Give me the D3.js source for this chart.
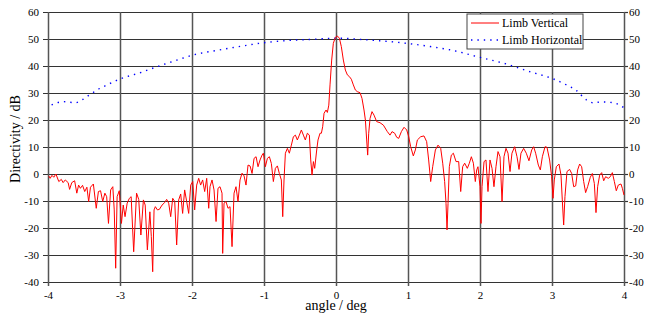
<!DOCTYPE html>
<html>
<head>
<meta charset="utf-8">
<script src="https://cdn.jsdelivr.net/npm/d3@7"></script>
<style>
  body { margin: 0; background: #fff; }
  text { font-family: "Liberation Serif", "DejaVu Serif", serif; fill: #000; }
</style>
</head>
<body>
<div id="chart"></div>
<script>
// tick values
const xTicks = [-4, -3, -2, -1, 0, 1, 2, 3, 4];
const yTicks = [-40, -30, -20, -10, 0, 10, 20, 30, 40, 50, 60];

// Limb Vertical
const vertAngle = [
  -3.99, -3.97, -3.945, -3.92, -3.89, -3.85, -3.815, -3.79, -3.76, -3.72, -3.70, -3.67, -3.63, -3.60,
  -3.575, -3.55, -3.52, -3.49, -3.46, -3.435, -3.41, -3.37, -3.33, -3.30, -3.27, -3.24, -3.21, -3.185,
  -3.16, -3.13, -3.10, -3.08, -3.06, -3.04, -3.01, -2.98, -2.955, -2.93, -2.90, -2.87, -2.845, -2.81,
  -2.77, -2.74, -2.71, -2.675, -2.65, -2.62, -2.585, -2.565, -2.546, -2.527, -2.509, -2.48, -2.453,
  -2.416, -2.38, -2.352, -2.324, -2.296, -2.268, -2.24, -2.213, -2.185, -2.157, -2.13, -2.102, -2.074,
  -2.046, -2.018, -1.99, -1.963, -1.935, -1.907, -1.88, -1.852, -1.824, -1.796, -1.768, -1.75, -1.722,
  -1.694, -1.666, -1.639, -1.611, -1.583, -1.574, -1.555, -1.528, -1.5, -1.472, -1.444, -1.416, -1.389,
  -1.361, -1.333, -1.305, -1.277, -1.25, -1.222, -1.194, -1.166, -1.138, -1.11, -1.083, -1.055, -1.027,
  -1.009, -0.981, -0.953, -0.925, -0.898, -0.87, -0.842, -0.814, -0.787, -0.759, -0.74, -0.722, -0.703,
  -0.675, -0.648, -0.62, -0.592, -0.564, -0.537, -0.509, -0.481, -0.453, -0.426, -0.398, -0.37, -0.351,
  -0.333, -0.314, -0.296, -0.268, -0.25, -0.222, -0.203, -0.185, -0.166, -0.138, -0.12, -0.1, -0.083,
  -0.06, -0.037, -0.009, 0.019, 0.047, 0.074, 0.102, 0.13, 0.158, 0.185, 0.213, 0.241, 0.269, 0.296,
  0.334, 0.361, 0.389, 0.408, 0.426, 0.44, 0.454, 0.473, 0.5, 0.528, 0.565, 0.611, 0.658, 0.713, 0.75,
  0.778, 0.815, 0.843, 0.871, 0.908, 0.945, 0.982, 1.01, 1.037, 1.074, 1.102, 1.13, 1.176, 1.222, 1.259,
  1.287, 1.315, 1.343, 1.38, 1.417, 1.454, 1.482, 1.509, 1.528, 1.542, 1.556, 1.574, 1.602, 1.63, 1.667,
  1.704, 1.732, 1.759, 1.787, 1.824, 1.852, 1.88, 1.908, 1.935, 1.954, 1.972, 2.0, 2.014, 2.028, 2.056,
  2.083, 2.111, 2.139, 2.167, 2.194, 2.222, 2.25, 2.278, 2.306, 2.333, 2.361, 2.389, 2.417, 2.444, 2.481,
  2.514, 2.542, 2.569, 2.606, 2.643, 2.68, 2.718, 2.745, 2.773, 2.81, 2.838, 2.866, 2.903, 2.93, 2.967,
  2.995, 3.014, 3.032, 3.06, 3.097, 3.125, 3.143, 3.162, 3.18, 3.208, 3.245, 3.273, 3.301, 3.329, 3.356,
  3.384, 3.412, 3.44, 3.467, 3.495, 3.532, 3.56, 3.588, 3.611, 3.634, 3.662, 3.69, 3.718, 3.745, 3.782,
  3.81, 3.838, 3.866, 3.893, 3.921, 3.958, 3.977, 4.0
];
const vertDb = [
  -0.7, -1.6, -0.5, -1.2, 0.0, -2.8, -2.0, -3.2, -2.2, -3.2, -5.7, -3.2, -2.5, -7.1,
  -4.1, -5.3, -4.2, -6.5, -4.9, -10.2, -4.9, -3.7, -12.7, -6.5, -6.2, -10.2, -7.1, -8.4,
  -18.3, -5.9, -4.7, -13.3, -34.9, -8.4, -6.2, -18.3, -11.5, -15.8, -10.8, -9.0, -8.4, -28.8,
  -7.1, -9.4, -22.6, -9.6, -11.5, -28.1, -14.0, -23.2, -36.2, -13.3, -12.1, -13.3, -13.1,
  -11.5, -10.6, -9.4, -10.8, -15.8, -9.0, -10.2, -26.3, -9.6, -7.4, -14.6, -5.9, -10.2,
  -14.6, -4.1, -2.8, -13.3, -4.1, -1.6, -4.1, -2.2, -6.5, -1.6, -12.7, -4.7, -2.2,
  -5.9, -17.6, -5.3, -4.7, -7.1, -29.4, -10.8, -10.2, -12.7, -12.1, -26.9, -7.1, -4.7,
  -10.2, -2.2, 0.3, -0.7, -4.1, 3.3, 3.0, 0.2, 5.8, 6.4, 2.7, 5.2, 7.0,
  7.7, 2.7, 5.8, 6.4, 3.9, -2.8, 2.1, 3.0, 0.2, -2.2, -15.8, -2.2, 7.7,
  9.5, 7.7, 10.7, 13.8, 14.4, 12.6, 14.4, 16.3, 14.4, 12.6, 15.1, 14.4, 5.2,
  -0.4, 4.6, 2.1, 8.9, 12.6, 15.1, 15.1, 17.5, 22.5, 23.7, 22.8, 25.5, 33,
  42.2, 48.4, 50.6, 51.1, 50.3, 47.2, 42.2, 38.5, 36.7, 36.1, 35.1, 33.0, 31.1, 30.5,
  30.1, 28.0, 23.7, 20.0, 12.6, 7.0, 15.1, 20.6, 23.1, 21.8, 19.4, 19.0, 18.1, 15.7, 14.4,
  15.7, 15.1, 13.6, 13.2, 15.7, 17.3, 16.3, 13.8, 10.1, 6.7, 8.9, 12.6, 13.8, 14.1, 12.0,
  5.2, -2.8, 2.7, 8.9, 10.7, 9.5, 4.0, -2.8, -10.9, -20.7, -10.9, 2.7, 7.0, 7.7, 4.6,
  4.6, -6.5, 2.7, 4.0, 2.1, 4.0, 6.4, 4.0, -2.8, 1.5, 2.7, -4.7, -18.3, -4.7, 4.6,
  5.2, -6.5, 5.2, 2.1, -4.7, 2.7, 8.3, 6.4, -10.2, 6.4, 9.5, 7.7, 0.9, 7.7, 10.1,
  6.4, 1.7, 7.7, 9.5, 7.7, 4.9, 8.9, 10.1, 7.7, 3.3, 1.5, 6.4, 10.1, 9.9, 5.2,
  -1.0, -9.0, -2.2, 2.7, 3.7, -0.4, -9.6, -18.9, -8.4, 0.9, 1.7, 0.2, -4.7, -4.4, 1.5,
  3.7, 2.7, -2.8, -6.9, -4.7, -1.2, 0.2, -3.5, -14.3, -4.7, -0.4, 0.5, -2.5, -1.0, -1.6,
  -1.0, 0.5, -2.8, -6.2, -4.1, -3.7, -5.3, -7.8
];

// Limb Horizontal
const horzAngle = [
  -3.95, -3.79, -3.62, -3.53, -3.44, -3.3, -3.18, -3.0, -2.72, -2.49, -2.21, -1.98, -1.63, -1.3,
  -1.01, -0.69, -0.32, 0.0, 0.47, 0.98, 1.31, 1.58, 2.0, 2.37, 2.69, 3.02, 3.2, 3.34, 3.48, 3.57,
  3.7, 3.85, 3.92, 4.0
];
const horzDb = [
  25.6, 26.8, 26.4, 27.4, 29.0, 31.4, 33.0, 35.2, 37.5, 39.7, 42.2, 44.1, 45.9, 47.4,
  48.6, 49.4, 49.9, 50.3, 49.6, 48.4, 47.2, 46.0, 43.2, 40.7, 37.9, 35.2, 33.0, 30.9, 27.4, 26.4,
  26.7, 26.4, 25.8, 24.5
];

const W = 645, H = 320;
const margin = { top: 12, right: 21, bottom: 38, left: 48 };
const width = W - margin.left - margin.right;
const height = H - margin.top - margin.bottom;

const svg = d3.select("#chart").append("svg")
  .attr("width", W)
  .attr("height", H);

const g = svg.append("g")
  .attr("transform", "translate(" + margin.left + "," + margin.top + ")");

const x = d3.scaleLinear().domain([-4, 4]).range([0, width]);
const y = d3.scaleLinear().domain([-40, 60]).range([height, 0]);

// plain hyphen minus, like the original
const fmt = d => String(d);

// horizontal grid + left labels (axis sits on the right edge, ticks run across)
const yGrid = g.append("g")
  .attr("transform", "translate(" + width + ",0)")
  .call(d3.axisLeft(y).tickValues(yTicks).tickFormat(fmt).tickSize(width + 5).tickPadding(4));

// right labels
const yRight = g.append("g")
  .attr("transform", "translate(" + width + ",0)")
  .call(d3.axisRight(y).tickValues(yTicks).tickFormat(fmt).tickSize(4).tickPadding(1));

// vertical grid + bottom labels
const xGrid = g.append("g")
  .call(d3.axisBottom(x).tickValues(xTicks).tickFormat(fmt).tickSize(height + 4).tickPadding(5));

[yGrid, yRight, xGrid].forEach(a => {
  a.attr("font-family", null);
  a.select(".domain").remove();
  a.selectAll("line").attr("stroke", "#333").attr("stroke-width", 1.2);
  a.selectAll("text").attr("font-size", 11);
});
xGrid.selectAll("line").attr("stroke", "#555").attr("stroke-width", 1.5);

// Limb Horizontal, dotted blue
const horz = horzAngle.map((a, i) => ({ a: a, v: horzDb[i] }));
g.append("path")
  .datum(horz)
  .attr("fill", "none")
  .attr("stroke", "#0000ff")
  .attr("stroke-width", 1.4)
  .attr("stroke-dasharray", "1.4,5")
  .attr("d", d3.line().x(d => x(d.a)).y(d => y(d.v)).curve(d3.curveMonotoneX));

// Limb Vertical, solid red
const vert = vertAngle.map((a, i) => ({ a: a, v: vertDb[i] }));
g.append("path")
  .datum(vert)
  .attr("fill", "none")
  .attr("stroke", "#ff0000")
  .attr("stroke-width", 1)
  .attr("stroke-linejoin", "round")
  .attr("d", d3.line().x(d => x(d.a)).y(d => y(d.v)));

// axis titles
svg.append("text")
  .attr("x", margin.left + x(0))
  .attr("y", 310)
  .attr("text-anchor", "middle")
  .attr("font-size", 14)
  .text("angle / deg");

svg.append("text")
  .attr("transform", "translate(20," + (margin.top + y(10) - 8) + ") rotate(-90)")
  .attr("text-anchor", "middle")
  .attr("font-size", 14)
  .text("Directivity / dB");

// legend
const leg = svg.append("g").attr("transform", "translate(467,14)");
leg.append("rect")
  .attr("width", 116).attr("height", 35)
  .attr("fill", "#fff").attr("stroke", "#444").attr("stroke-width", 1);
leg.append("line")
  .attr("x1", 4).attr("x2", 32).attr("y1", 9).attr("y2", 9)
  .attr("stroke", "#ff0000").attr("stroke-width", 1);
leg.append("line")
  .attr("x1", 4).attr("x2", 32).attr("y1", 26).attr("y2", 26)
  .attr("stroke", "#0000ff").attr("stroke-width", 1.4).attr("stroke-dasharray", "1.4,5");
leg.append("text").attr("x", 35).attr("y", 13).attr("font-size", 12).text("Limb Vertical");
leg.append("text").attr("x", 35).attr("y", 30).attr("font-size", 12).text("Limb Horizontal");
</script>
</body>
</html>
